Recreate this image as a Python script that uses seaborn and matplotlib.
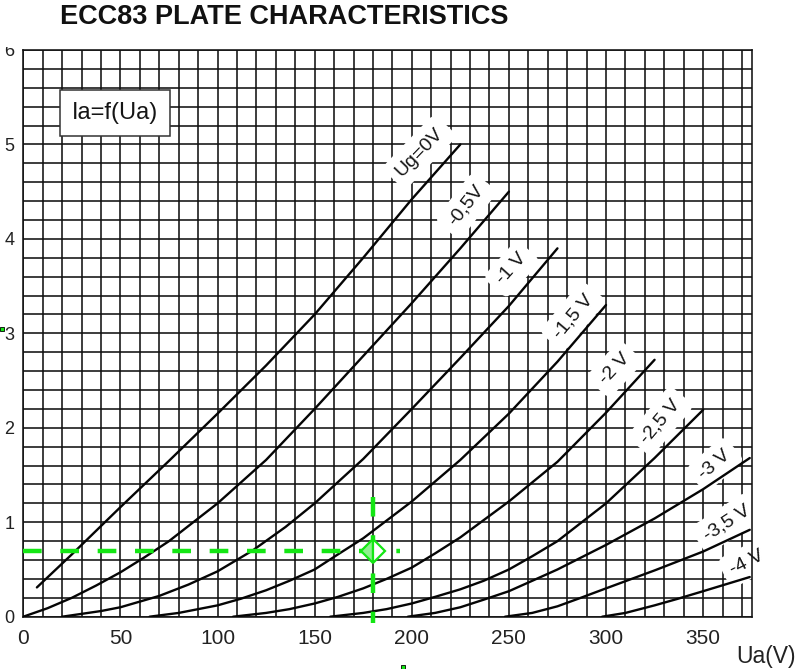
import matplotlib.pyplot as plt
import numpy as np
import pandas as pd
import seaborn as sns
from matplotlib.lines import Line2D
from matplotlib.patches import Rectangle

# ECC83 anode curves (Ua in V, Ia in mA)
ua_g0 = [7, 25, 50, 75, 100, 125, 150, 175, 200, 225]
ia_g0 = [0.31, 0.66, 1.16, 1.65, 2.15, 2.66, 3.20, 3.80, 4.42, 5.00]
ua_g05 = [0, 12.5, 25, 37.5, 50, 62.5, 75, 100, 125, 150, 175, 200, 225, 250]
ia_g05 = [0, 0.09, 0.20, 0.33, 0.47, 0.63, 0.80, 1.20, 1.66, 2.20, 2.76, 3.32, 3.90, 4.50]
ua_g1 = [20, 30, 40, 50, 60, 70, 85, 100, 118, 135, 150, 175, 200, 225, 250, 275]
ia_g1 = [0, 0.03, 0.06, 0.10, 0.16, 0.22, 0.34, 0.48, 0.70, 0.95, 1.20, 1.67, 2.20, 2.74, 3.29, 3.90]
ua_g15 = [65, 80, 100, 112, 125, 137, 150, 162, 175, 200, 225, 250, 275, 300]
ia_g15 = [0, 0.04, 0.12, 0.19, 0.28, 0.38, 0.50, 0.66, 0.83, 1.22, 1.66, 2.15, 2.70, 3.30]
ua_g2 = [108, 125, 137, 150, 162, 175, 187, 200, 212, 225, 250, 275, 300, 325]
ia_g2 = [0, 0.04, 0.08, 0.14, 0.21, 0.30, 0.40, 0.52, 0.67, 0.84, 1.22, 1.64, 2.16, 2.72]
ua_g25 = [158, 175, 187, 200, 212, 225, 237, 250, 262, 275, 300, 325, 350]
ia_g25 = [0, 0.04, 0.08, 0.14, 0.21, 0.29, 0.38, 0.50, 0.64, 0.80, 1.20, 1.68, 2.19]
ua_g3 = [198, 212, 225, 237, 250, 262, 275, 300, 325, 350, 374]
ia_g3 = [0, 0.04, 0.10, 0.18, 0.27, 0.38, 0.50, 0.76, 1.04, 1.35, 1.68]
ua_g35 = [248, 262, 275, 287, 300, 325, 350, 374]
ia_g35 = [0, 0.04, 0.11, 0.20, 0.30, 0.49, 0.69, 0.92]
ua_g4 = [298, 310, 325, 337, 350, 374]
ia_g4 = [0, 0.04, 0.12, 0.19, 0.27, 0.42]

grid_labels = ["Ug=0V", "-0,5V", "-1 V", "-1,5 V", "-2 V", "-2,5 V", "-3 V", "-3,5 V", "-4 V"]
label_ua = [204, 228, 251.5, 283, 304.5, 328, 356, 362, 372.5]
label_ia = [4.92, 4.35, 3.68, 3.18, 2.62, 2.07, 1.61, 0.99, 0.57]
label_rot = [46, 52, 48, 50, 47, 50, 41, 33, 27]

# operating point marked in green
op_ua = 180
op_ia = 0.70

curves = [
    (ua_g0, ia_g0), (ua_g05, ia_g05), (ua_g1, ia_g1), (ua_g15, ia_g15), (ua_g2, ia_g2),
    (ua_g25, ia_g25), (ua_g3, ia_g3), (ua_g35, ia_g35), (ua_g4, ia_g4),
]
rows = []
for name, (ua, ia) in zip(grid_labels, curves):
    for u, i in zip(ua, ia):
        rows.append({"Ug": name, "Ua": u, "Ia": i})
df = pd.DataFrame(rows)

sns.set_style("white")
plt.rcParams["font.family"] = ["Liberation Sans", "DejaVu Sans"]

ink = "#111111"
green = "#14e614"

fig = plt.figure(figsize=(8.06, 6.69), dpi=100)
W, H = 806, 669
ax = fig.add_axes([23.3 / W, 1 - 616.7 / H, (751.7 - 23.3) / W, (616.7 - 50) / H])

sns.lineplot(
    data=df, x="Ua", y="Ia", hue="Ug", hue_order=grid_labels,
    palette={name: "#050505" for name in grid_labels},
    estimator=None, sort=False, legend=False, lw=1.7, ax=ax, zorder=3,
)

ax.set_xlim(0, 375)
ax.set_ylim(0, 6)
ax.set_xticks(range(0, 351, 50))
ax.set_xticks(np.arange(0, 371, 10), minor=True)
ax.set_yticks(range(0, 7))
ax.set_yticks(np.round(np.arange(0, 6.01, 0.2), 2), minor=True)
ax.tick_params(which="minor", length=0)
ax.tick_params(which="major", length=4.5, width=1.1, color=ink, direction="out")
ax.tick_params(axis="x", labelsize=15, labelcolor="#222222", pad=4)
ax.tick_params(axis="y", labelsize=13, labelcolor="#222222", pad=2)
ax.set_axisbelow(True)
ax.grid(which="both", color=ink, lw=1.15)
for sp in ax.spines.values():
    sp.set_color(ink)
    sp.set_linewidth(1.15)
ax.set_xlabel("")
ax.set_ylabel("")

# curve labels on white patches
for name, u, i, r in zip(grid_labels, label_ua, label_ia, label_rot):
    ax.text(u, i, name, rotation=r, ha="center", va="center", fontsize=14, color="#151515",
            rotation_mode="anchor", zorder=2, clip_on=False,
            bbox=dict(boxstyle="round,pad=0.4", fc="white", ec="none"))

ax.text(47.2, 5.33, "Ia=f(Ua)", ha="center", va="center", fontsize=17, color="#151515", zorder=4,
        bbox=dict(boxstyle="square,pad=0.5", fc="white", ec="#333333", lw=1.1))

# operating point crosshair
ax.plot([0, op_ua + 14], [op_ia, op_ia], color=green, lw=3.2, dashes=(4.2, 4.2),
        dash_capstyle="butt", zorder=5, clip_on=False)
ax.plot([op_ua, op_ua], [op_ia + 0.57, -0.07], color=green, lw=3.2, dashes=(4.4, 4.2),
        dash_capstyle="butt", zorder=5, clip_on=False)
ax.plot([op_ua], [op_ia], marker="D", ms=12.5, mec=green, mew=1.6, mfc="#8ff08f",
        mfcalt="white", fillstyle="left", zorder=6, clip_on=False)

# little selection handles
for hx, hy in [(403, 667), (2, 329)]:
    fig.add_artist(Line2D([hx / W], [1 - hy / H], marker="s", ms=3.5, mfc=green, mec="black",
                          mew=0.6, transform=fig.transFigure, zorder=12))

# mask the top of the cut-off "6"
fig.add_artist(Rectangle((0, 1 - 43 / H), 1, 43 / H, transform=fig.transFigure,
                         fc="white", ec="none", zorder=10))
fig.add_artist(Rectangle((0, 1 - 47 / H), 21 / W, 47 / H, transform=fig.transFigure,
                         fc="white", ec="none", zorder=10))
fig.text(60 / W, 1 - 17 / H, "ECC83 PLATE CHARACTERISTICS", ha="left", va="center",
         fontsize=19.5, fontweight="bold", color="#111111", zorder=11)
fig.text(766 / W, 1 - 657 / H, "Ua(V)", ha="center", va="center", fontsize=16.5, color="#222222")

fig.savefig("out.png", dpi=100)
plt.close(fig)
